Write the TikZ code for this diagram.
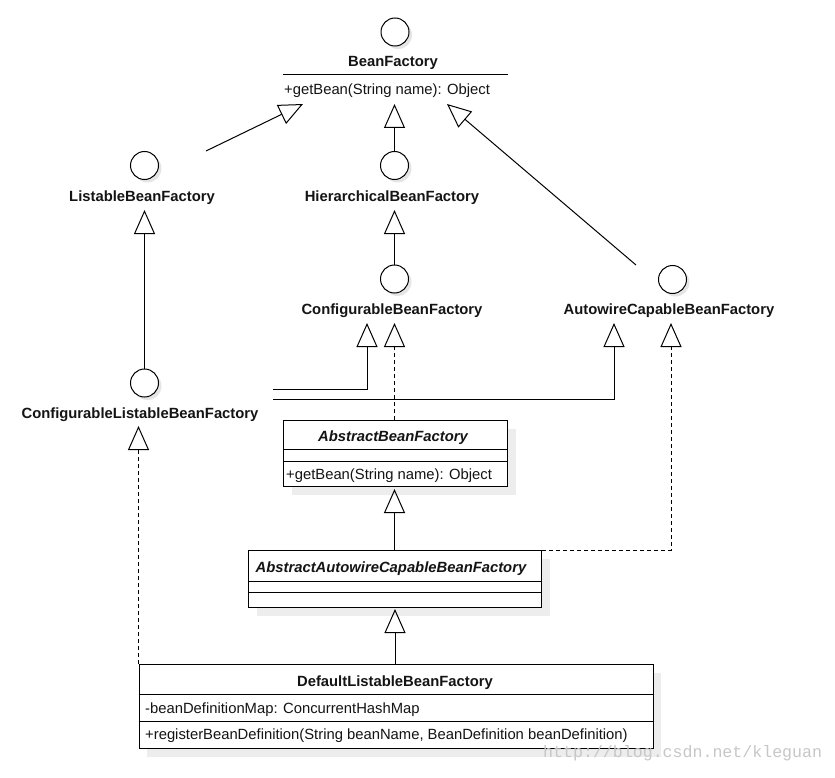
\documentclass[tikz,border=0pt]{standalone}
\usepackage{fontspec}
\setmainfont{Liberation Sans}
\newfontfamily\wmfont{Liberation Mono}
\usetikzlibrary{arrows.meta,shadows}
\begin{document}
\begin{tikzpicture}[x=1pt,y=-1pt,
  every node/.style={font=\fontsize{14.8pt}{17pt}\selectfont, text=black!92, inner sep=0pt},
  iface/.style={circle, draw, line width=1pt, minimum size=28pt, fill=white,
    drop shadow={shadow xshift=3pt, shadow yshift=-3pt, fill=black, opacity=0.10}},
  lbl/.style={font=\fontsize{14.8pt}{17pt}\selectfont\bfseries, anchor=base},
  ttl/.style={font=\fontsize{14.8pt}{17pt}\selectfont\bfseries\itshape, anchor=base},
  txt/.style={anchor=base west},
  umlbox/.style={draw, line width=1pt, fill=white, anchor=north west,
    drop shadow={shadow xshift=8pt, shadow yshift=-8pt, fill=black, opacity=0.07}},
  sep/.style={line width=1pt},
  inh/.style={line width=1pt, -{Triangle[open, length=24pt, width=21pt]}},
  real/.style={inh, dash pattern=on 4pt off 3pt}]

\fill[white] (0,0) rectangle (835,778);
\useasboundingbox (0,0) rectangle (835,778);

% ---- BeanFactory ----
\node[iface] (bfc) at (395,32) {};
\node[lbl] (bf) at (393,67) {BeanFactory};
\coordinate (bfL) at (283,75);
\coordinate (bfR) at (508,75);
\draw[sep] (bfL) -- (bfR);
\node[txt] (bfm) at (284,95) {+getBean(String name): Object};

% ---- interfaces ----
\node[iface] (lbfc) at (144.5,165.5) {};
\node[lbl] (lbfT) at (142,201) {ListableBeanFactory};
\node[iface] (hbfc) at (394.5,165.5) {};
\node[lbl] (hbfT) at (392,201) {HierarchicalBeanFactory};
\node[iface] (cbfc) at (394.5,279) {};
\node[lbl] (cbfT) at (392,314) {ConfigurableBeanFactory};
\node[iface] (acbfc) at (672.5,279.5) {};
\node[lbl] (acbfT) at (669,314) {AutowireCapableBeanFactory};
\node[iface] (clbfc) at (144.5,383) {};
\node[lbl] (clbfT) at (140,418) {ConfigurableListableBeanFactory};

% ---- classes ----
\node[umlbox, minimum width=224pt, minimum height=66pt] (abf) at (283,420) {};
\draw[sep] ([yshift=-29pt]abf.north west) -- ([yshift=-29pt]abf.north east);
\draw[sep] ([yshift=-41pt]abf.north west) -- ([yshift=-41pt]abf.north east);
\node[ttl] (abfT) at (393,441) {AbstractBeanFactory};
\node[txt] (abfM) at (286,479) {+getBean(String name): Object};

\node[umlbox, minimum width=293pt, minimum height=57pt] (aacbf) at (248,550) {};
\draw[sep] ([yshift=-31pt]aacbf.north west) -- ([yshift=-31pt]aacbf.north east);
\draw[sep] ([yshift=-42pt]aacbf.north west) -- ([yshift=-42pt]aacbf.north east);
\node[ttl] (aacbfT) at (391,572) {AbstractAutowireCapableBeanFactory};

\node[umlbox, minimum width=514pt, minimum height=84pt] (dlbf) at (138.5,664) {};
\draw[sep] ([yshift=-30pt]dlbf.north west) -- ([yshift=-30pt]dlbf.north east);
\draw[sep] ([yshift=-57pt]dlbf.north west) -- ([yshift=-57pt]dlbf.north east);
\node[lbl] (dlbfT) at (395,686) {DefaultListableBeanFactory};
\node[txt] (dlbfA) at (145,713) {-beanDefinitionMap: ConcurrentHashMap};
\node[txt] (dlbfM) at (145,739.5) {+registerBeanDefinition(String beanName, BeanDefinition beanDefinition)};

% ---- connector end points ----
\coordinate (tipL) at (303,104);
\coordinate (tipM) at (394.5,104);
\coordinate (tipR) at (447,104);
\coordinate (lbfE) at (206,151);
\coordinate (acbfE) at (636,265);
\coordinate (tipLi) at (144.5,210);
\coordinate (tipH) at (394.5,210);
\coordinate (tipC1) at (367,323);
\coordinate (tipC2) at (394.5,323);
\coordinate (tipA1) at (614,323);
\coordinate (tipA2) at (671,323);
\coordinate (tipCL) at (138.5,426);
\coordinate (tipAB) at (394.5,489);
\coordinate (tipAA) at (395,609);
\coordinate (free1) at (273,389);
\coordinate (free2) at (273,399);

% ---- connectors ----
\draw[inh] (lbfE) -- (tipL);
\draw[inh] (hbfc) -- (tipM);
\draw[inh] (acbfE) -- (tipR);
\draw[inh] (clbfc) -- (tipLi);
\draw[inh] (cbfc) -- (tipH);
\draw[inh] (free1) -| (tipC1);
\draw[inh] (free2) -| (tipA1);
\draw[real] (abf.north -| tipC2) -- (tipC2);
\draw[real] (aacbf.north east) -| (tipA2);
\draw[inh] (aacbf.north -| tipAB) -- (tipAB);
\draw[inh] (dlbf.north -| tipAA) -- (tipAA);
\draw[real] (dlbf.north west) -- (tipCL);

% ---- watermark ----
\node[anchor=base west, font=\wmfont\fontsize{16.6pt}{18pt}\selectfont, text=black!22] (wm) at (543,757) {http://blog.csdn.net/kleguan};
\end{tikzpicture}
\end{document}
